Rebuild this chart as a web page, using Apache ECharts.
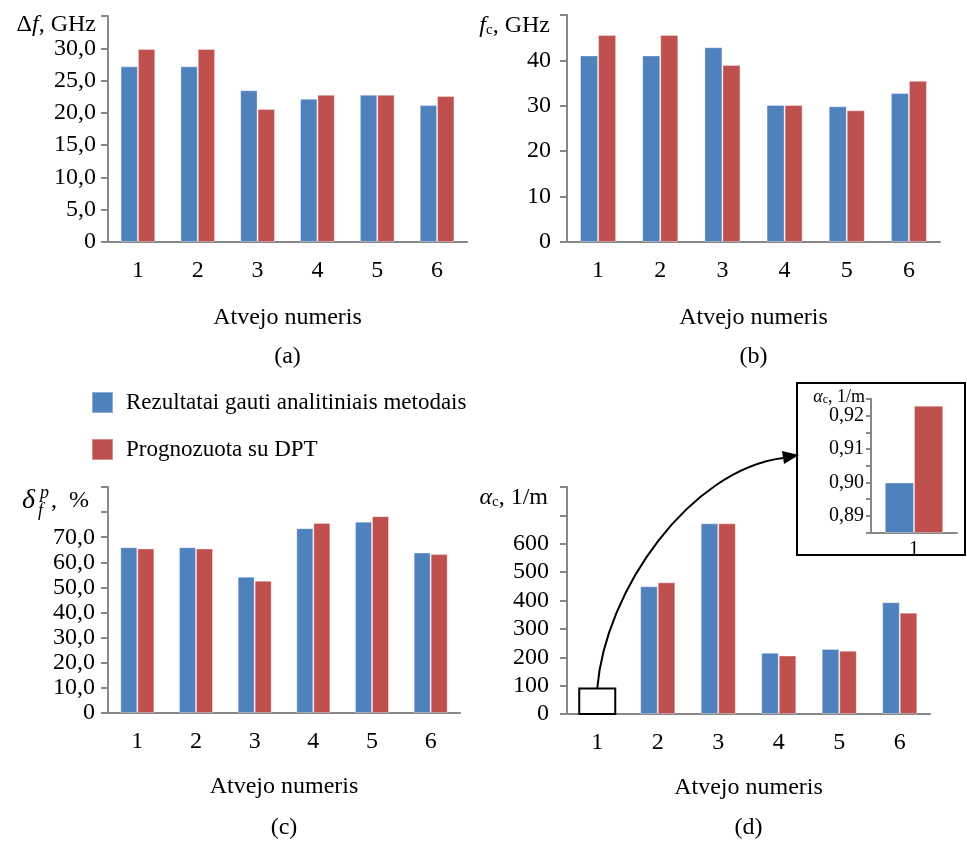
<!DOCTYPE html>
<html>
<head>
<meta charset="utf-8">
<script src="https://cdn.jsdelivr.net/npm/echarts@6/dist/echarts.min.js"></script>
<style>
html,body{margin:0;padding:0;background:#fff;}
#chart{width:967px;height:841px;}
</style>
</head>
<body>
<div id="chart"></div>
<script>
// ---- data ----
const categories = ['1', '2', '3', '4', '5', '6'];
const seriesNames = ['Rezultatai gauti analitiniais metodais', 'Prognozuota su DPT'];
const dfAnalytic = [27.2, 27.2, 23.5, 22.2, 22.8, 21.2];
const dfPredicted = [29.9, 29.9, 20.6, 22.8, 22.8, 22.6];
const fcAnalytic = [41.1, 41.1, 42.9, 30.2, 29.9, 32.8];
const fcPredicted = [45.6, 45.6, 39.0, 30.2, 29.0, 35.5];
const deltaAnalytic = [66.0, 66.0, 54.3, 73.6, 76.2, 63.9];
const deltaPredicted = [65.5, 65.5, 52.7, 75.7, 78.4, 63.3];
const alphaAnalytic = [0.900, 450, 672, 216, 229, 394];
const alphaPredicted = [0.923, 464, 672, 206, 223, 357];
const insetCategories = ['1'];
const xAxisTitle = 'Atvejo numeris';
const panelLabels = ['(a)', '(b)', '(c)', '(d)'];

const FONT = 'Liberation Serif';
const BLUE = '#4F81BD';
const RED = '#C0504D';
const AXIS = '#878787';
const TICKFS = 24;

const chart = echarts.init(document.getElementById('chart'));

const grids = [
  {left: 108, top: 16, width: 359, height: 226},
  {left: 567, top: 15, width: 373, height: 227},
  {left: 108, top: 487, width: 352, height: 226},
  {left: 567, top: 487, width: 363, height: 227},
  {left: 871, top: 399, width: 86, height: 133.5}
];

function comma1(v) { return v === 0 ? '0' : v.toFixed(1).replace('.', ','); }

function xAxis(i, withName) {
  return {
    type: 'category', gridIndex: i, data: i === 4 ? insetCategories : categories,
    axisLine: {lineStyle: {color: AXIS, width: 2}},
    axisTick: {length: i === 4 ? 5 : 6, lineStyle: {color: AXIS, width: 2}},
    axisLabel: {color: '#000', fontFamily: FONT, fontSize: i === 4 ? 20 : TICKFS, margin: i === 4 ? 7 : 17},
    name: withName ? xAxisTitle : '',
    nameLocation: 'middle',
    nameGap: i < 2 ? 64 : 62,
    nameTextStyle: {color: '#000', fontFamily: FONT, fontSize: 24}
  };
}

const richBase = {
  i: {fontStyle: 'italic', fontFamily: FONT, fontSize: 24, color: '#000'},
  u: {fontFamily: FONT, fontSize: 24, color: '#000'},
  s: {fontFamily: FONT, fontSize: 15, color: '#000', padding: [8, 0, 0, 0]},
  si: {fontStyle: 'italic', fontFamily: FONT, fontSize: 18, color: '#000'},
  ss: {fontFamily: FONT, fontSize: 12, color: '#000', padding: [6, 0, 0, 0]},
  su: {fontFamily: FONT, fontSize: 18, color: '#000'}
};

function yAxis(i, opts) {
  return Object.assign({
    type: 'value', gridIndex: i,
    splitLine: {show: false},
    axisLine: {show: true, lineStyle: {color: AXIS, width: 2}},
    axisTick: {show: true, length: i === 4 ? 5 : 7, lineStyle: {color: AXIS, width: 2}},
    nameLocation: 'end',
  }, opts);
}

const option = {
  animation: false,
  backgroundColor: '#fff',
  textStyle: {fontFamily: FONT},
  grid: grids,
  legend: {
    orient: 'vertical', left: 91, top: 391, padding: 0,
    itemWidth: 21, itemHeight: 21, itemGap: 24,
    icon: 'rect',
    data: seriesNames,
    textStyle: {fontFamily: FONT, fontSize: 23, color: '#000', padding: [0, 0, 0, 8]}
  },
  xAxis: [xAxis(0, true), xAxis(1, true), xAxis(2, true), xAxis(3, true), xAxis(4, false)],
  yAxis: [
    yAxis(0, {min: 0, max: 35, interval: 5,
      axisLabel: {color: '#000', fontFamily: FONT, fontSize: TICKFS, margin: 12,
        formatter: v => v >= 35 ? '' : comma1(v)},
      name: '{u|Δ}{i|f}{u|, GHz}', nameGap: -10,
      nameTextStyle: {align: 'right', verticalAlign: 'middle', padding: [0, 12, 0, 0], rich: richBase}}),
    yAxis(1, {min: 0, max: 50, interval: 10,
      axisLabel: {color: '#000', fontFamily: FONT, fontSize: TICKFS, margin: 16,
        formatter: v => v >= 50 ? '' : String(v)},
      name: '{i|f}{s|c}{u|, GHz}', nameGap: -11,
      nameTextStyle: {align: 'right', verticalAlign: 'middle', padding: [0, 17, 0, 0], rich: richBase}}),
    yAxis(2, {min: 0, max: 90, interval: 10,
      axisLabel: {color: '#000', fontFamily: FONT, fontSize: TICKFS, margin: 13,
        formatter: v => v >= 80 ? '' : comma1(v)}}),
    yAxis(3, {min: 0, max: 800, interval: 100,
      axisLabel: {color: '#000', fontFamily: FONT, fontSize: TICKFS, margin: 18,
        formatter: v => v >= 700 ? '' : String(v)},
      name: '{i|α}{s|c}{u|, 1/m}', nameGap: -11,
      nameTextStyle: {align: 'right', verticalAlign: 'middle', padding: [0, 19, 0, 0], rich: richBase}}),
    yAxis(4, {min: 0.885, max: 0.925, interval: 0.005,
      axisLabel: {color: '#000', fontFamily: FONT, fontSize: 20, margin: 7,
        formatter: v => {
          const m = Math.round(v * 1000);
          return (m % 10 === 0 && m < 925) ? (m / 1000).toFixed(2).replace('.', ',') : '';
        }},
      name: '{si|α}{ss|c}{su|, 1/m}', nameGap: -4,
      nameTextStyle: {align: 'right', verticalAlign: 'middle', padding: [0, 6, 0, 0], rich: richBase}})
  ],
  series: []
};

const pairs = [
  [dfAnalytic, dfPredicted],
  [fcAnalytic, fcPredicted],
  [deltaAnalytic, deltaPredicted],
  [alphaAnalytic, alphaPredicted],
  [[alphaAnalytic[0]], [alphaPredicted[0]]]
];
pairs.forEach((p, i) => {
  [0, 1].forEach(k => {
    option.series.push({
      type: 'bar', name: seriesNames[k],
      xAxisIndex: i, yAxisIndex: i,
      data: p[k],
      barWidth: i === 4 ? '34%' : '29%',
      barGap: '0%',
      itemStyle: {color: k === 0 ? BLUE : RED, borderColor: 'rgba(255,255,255,0.35)', borderWidth: 1},
      emphasis: {disabled: true}
    });
  });
});

chart.setOption(option);

// ---- annotations ----
const graphics = [];
// panel labels (a)-(d)
const labelY = [357, 357, 828, 828];
panelLabels.forEach((t, i) => {
  const g = grids[i];
  graphics.push({type: 'text', style: {text: t, x: g.left + g.width / 2, y: labelY[i],
    align: 'center', verticalAlign: 'middle', fontFamily: FONT, fontSize: 24, fill: '#000'}});
});
// panel (c) axis name: δ_f^p, %
graphics.push({type: 'text', style: {text: 'δ', x: 22, y: 501, verticalAlign: 'middle',
  fontFamily: FONT, fontStyle: 'italic', fontSize: 28, fill: '#000'}});
graphics.push({type: 'text', style: {text: 'f', x: 38, y: 511, verticalAlign: 'middle',
  fontFamily: FONT, fontStyle: 'italic', fontSize: 18, fill: '#000'}});
graphics.push({type: 'text', style: {text: 'p', x: 40, y: 493, verticalAlign: 'middle',
  fontFamily: FONT, fontStyle: 'italic', fontSize: 18, fill: '#000'}});
graphics.push({type: 'text', style: {text: ',  %', x: 51, y: 501, verticalAlign: 'middle',
  fontFamily: FONT, fontSize: 24, fill: '#000'}});

// small rectangle around category 1 in panel (d)
const p0 = chart.convertToPixel({xAxisIndex: 3, yAxisIndex: 3}, [0, 0]);
const p1 = chart.convertToPixel({xAxisIndex: 3, yAxisIndex: 3}, [0, 90]);
graphics.push({type: 'rect', shape: {x: p0[0] - 18, y: p1[1], width: 36, height: p0[1] - p1[1]},
  style: {fill: 'none', stroke: '#000', lineWidth: 2}, z: 10});
// inset frame
graphics.push({type: 'rect', shape: {x: 797, y: 383, width: 168, height: 172},
  style: {fill: 'none', stroke: '#000', lineWidth: 2}, z: 10});
// arrow
const sx = p0[0], sy = p1[1];
graphics.push({type: 'bezierCurve', shape: {x1: sx, y1: sy, cpx1: sx + 8, cpy1: 590, cpx2: 690, cpy2: 470, x2: 783, y2: 458},
  style: {fill: 'none', stroke: '#000', lineWidth: 2}, z: 10});
graphics.push({type: 'polygon', shape: {points: [[799, 455], [782, 451], [784, 464]]},
  style: {fill: '#000'}, z: 10});

chart.setOption({graphic: graphics});
</script>
</body>
</html>
